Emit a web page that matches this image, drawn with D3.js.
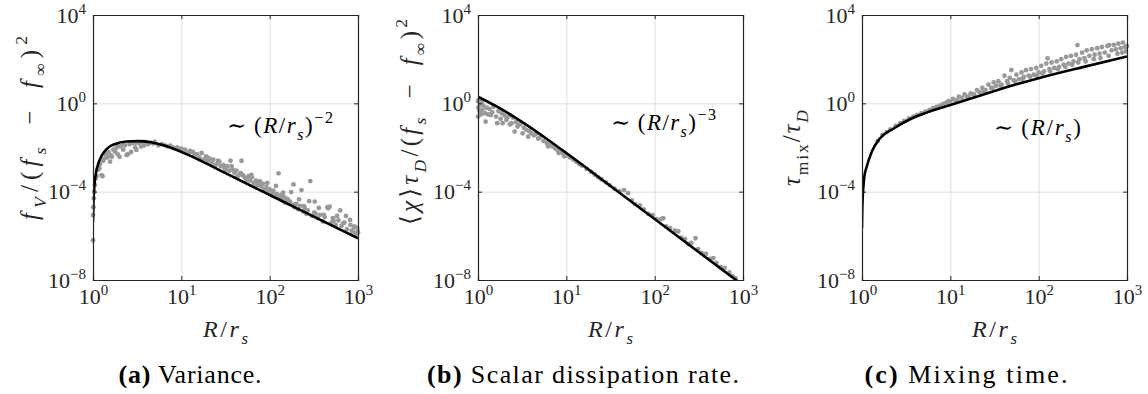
<!DOCTYPE html>
<html>
<head>
<meta charset="utf-8">
<script src="https://cdn.jsdelivr.net/npm/d3@7"></script>
<style>
  body { margin: 0; background: #fff; }
</style>
</head>
<body>
<script>
// axis ticks shared by all three panels
var xTicks = [1, 10, 100, 1000];
var yTicks = [1e-8, 1e-4, 1, 1e4];

// all series: [R/r_s, log10 of the plotted quantity]
var varianceLine = [[1, -5.36], [1.01, -4.6], [1.026, -4.0], [1.05, -3.5], [1.08, -3.15], [1.15, -2.72],
  [1.25, -2.38], [1.43, -2.06], [1.78, -1.84], [2.4, -1.73], [3.2, -1.71], [4.5, -1.76], [6.3, -1.9], [10, -2.2],
  [17.8, -2.66], [31.6, -3.16], [100, -4.15], [316, -5.13], [1000, -6.11]];

var varianceDots = [[1.0, -6.2], [1.0, -5.06], [1.01, -4.7], [1.02, -4.3], [1.03, -4.0], [1.05, -3.7], [1.07, -3.4],
  [1.1, -3.3], [1.12, -3.0], [1.15, -3.0], [1.18, -2.94], [1.2, -2.75], [1.25, -3.25], [1.28, -3.3], [1.3, -2.6],
  [1.35, -2.5], [1.4, -2.3], [1.45, -2.45], [1.5, -2.2], [1.56, -2.64], [1.6, -2.35], [1.63, -2.42], [1.7, -2.1],
  [1.78, -2.19], [1.85, -2.0], [1.9, -2.3], [1.9, -1.9], [2.0, -2.42], [2.05, -1.95], [2.2, -2.1], [2.2, -1.85],
  [2.3, -1.9], [2.4, -2.34], [2.5, -2.3], [2.6, -1.85], [2.6, -1.78], [2.7, -2.2], [2.8, -1.8], [3.0, -2.0],
  [3.0, -1.78], [3.1, -2.11], [3.3, -1.8], [3.5, -1.96], [3.6, -1.75], [3.8, -1.9], [4.0, -1.75], [4.2, -1.85],
  [4.5, -1.78], [4.8, -1.82], [5.0, -1.75], [5.5, -1.9], [6.0, -1.85], [6.5, -1.9], [7.0, -1.95], [7.5, -1.92],
  [8.0, -2.0], [8.5, -2.05], [9.0, -2.0], [9.5, -2.1], [10, -2.05], [10.5, -2.2], [11, -2.1], [12, -2.25],
  [12.5, -2.15], [13, -2.2], [14, -2.35], [15, -2.3], [16, -2.45], [17, -2.25], [18, -2.55], [19, -2.4],
  [20, -2.6], [21, -2.5], [22, -2.7], [23, -2.55], [25, -2.75], [26, -2.6], [28, -2.85], [30, -2.8],
  [31, -2.95], [33, -2.85], [35, -3.05], [36, -2.6], [38, -3.0], [40, -3.15], [42, -3.05], [45, -3.25],
  [48, -2.6], [50, -3.25], [52, -3.35], [55, -3.4], [58, -3.3], [60, -3.5], [63, -3.35], [66, -3.6],
  [70, -3.5], [73, -3.7], [76, -3.55], [80, -3.75], [84, -3.65], [88, -3.9], [92, -3.8], [96, -3.95],
  [100, -3.9], [105, -4.05], [110, -3.95], [115, -4.2], [120, -4.1], [126, -3.17], [130, -4.3], [135, -4.15],
  [140, -4.4], [145, -4.25], [150, -4.5], [160, -4.35], [165, -4.55], [170, -4.45], [186, -3.67], [185, -4.6],
  [190, -4.7], [200, -4.55], [210, -4.8], [220, -4.65], [229, -3.93], [240, -4.9], [250, -4.75], [260, -5.0],
  [270, -4.85], [288, -3.52], [300, -5.1], [324, -4.45], [330, -5.0], [350, -5.2], [370, -5.05], [400, -5.35],
  [420, -5.15], [450, -4.7], [478, -4.68], [500, -5.4], [520, -5.2], [560, -5.5], [600, -5.3], [630, -4.85],
  [650, -5.55], [700, -5.4], [750, -5.7], [813, -5.28], [820, -5.5], [870, -5.8], [900, -5.6], [950, -5.9],
  [980, -5.65], [1000, -5.85],
  [11, -2.18], [13.5, -2.2], [16.5, -2.56], [19.5, -2.44], [24, -2.85], [27, -2.64], [32, -3.03], [37, -2.85],
  [43, -3.33], [47, -3.16], [54, -3.47], [62, -3.24], [68, -3.62], [78, -3.54], [86, -3.92], [94, -3.6],
  [108, -4.01], [118, -3.74], [128, -4.27], [142, -4.05], [155, -4.32], [175, -4.02], [195, -4.57], [215, -4.35],
  [245, -4.66], [280, -4.43], [320, -4.94], [360, -4.74], [410, -5.05], [460, -4.75], [530, -5.32], [580, -5.1],
  [680, -5.44], [730, -5.1], [850, -5.77], [920, -5.58], [990, -5.8]];

var dissipationLine = [[1, 0.30], [1.585, -0.12], [2.51, -0.59], [3.98, -1.11], [6.31, -1.67], [10, -2.25],
  [31.6, -3.74], [100, -5.24], [1000, -8.24]];

var dissipationDots = [[1.0, 0.1], [1.0, -0.6], [1.01, -0.2], [1.02, 0.15], [1.04, -0.35], [1.06, -0.05],
  [1.08, -0.5], [1.1, 0.05], [1.12, -0.3], [1.15, -0.1], [1.2, -0.45], [1.22, -0.83], [1.25, -0.2], [1.3, -0.5],
  [1.35, -0.25], [1.4, -0.53], [1.45, -0.4], [1.5, -0.15], [1.6, -0.6], [1.65, -0.9], [1.7, -0.35], [1.8, -0.7],
  [1.85, -0.45], [1.9, -0.9], [2.0, -0.55], [2.1, -0.75], [2.2, -0.6], [2.3, -0.95], [2.4, -0.9], [2.5, -0.65],
  [2.6, -1.28], [2.7, -0.85], [2.8, -1.05], [3.0, -0.95], [3.2, -1.36], [3.3, -1.1], [3.5, -1.2], [3.7, -1.51],
  [3.8, -1.25], [4.0, -1.35], [4.3, -1.45], [4.5, -1.4], [4.8, -1.6], [5.0, -1.55], [5.5, -1.7], [6.0, -1.8],
  [6.2, -1.95], [6.5, -1.9], [7.0, -1.95], [7.5, -2.05], [8, -2.12], [8.2, -2.25], [8.5, -2.2], [9, -2.25],
  [9.5, -2.4], [10, -2.35], [11, -2.45], [12, -2.55], [13, -2.65], [14, -2.75], [15, -2.82], [17, -2.97],
  [19, -3.1], [21, -3.23], [23, -3.35], [25, -3.45], [28, -3.58], [31, -3.7], [35, -3.86], [40, -3.98],
  [45, -3.93], [50, -4.07], [55, -4.4], [60, -4.56], [68, -4.62], [75, -4.8], [85, -5.01], [95, -5.06],
  [105, -5.24], [118, -5.24], [125, -5.2], [135, -5.57], [150, -5.65], [170, -5.77], [185, -5.8], [200, -6.08],
  [220, -6.15], [240, -6.37], [260, -6.32], [290, -6.11], [310, -6.6], [340, -6.77], [380, -6.82], [420, -7.04],
  [460, -7.01], [500, -7.23], [560, -7.42], [620, -7.46], [700, -7.66], [760, -7.82], [820, -7.92]];

var mixingLine = [[1, -5.63], [1.005, -5.0], [1.018, -4.3], [1.04, -3.7], [1.065, -3.3], [1.13, -2.87],
  [1.29, -2.19], [1.6, -1.58], [2.26, -1.15], [3.5, -0.72], [5.4, -0.42], [10, -0.08], [17.8, 0.24], [31.6, 0.56],
  [56, 0.86], [100, 1.14], [316, 1.64], [1000, 2.12]];

var mixingDots = [[1.5, -1.71], [1.7, -1.43], [1.9, -1.3], [2.1, -1.18], [2.4, -1.02], [2.7, -0.9], [3.0, -0.8],
  [3.4, -0.68], [3.8, -0.6], [4.2, -0.52], [4.7, -0.45], [5.2, -0.38], [5.8, -0.3], [6.4, -0.22], [7.0, -0.16],
  [7.6, -0.1], [8.3, -0.03], [9.0, 0.03], [9.5, 0.1], [10, 0.08], [10.7, 0.2], [11.5, 0.12], [12.5, 0.3],
  [13.5, 0.25], [14.5, 0.4], [15.5, 0.3], [17, 0.45], [18.5, 0.4], [20, 0.6], [21.5, 0.5], [23, 0.7], [25, 0.6],
  [27, 0.85], [29, 0.7], [31, 0.95], [33, 0.8], [35, 1.0], [38, 0.85], [41, 1.25], [44, 1.0], [47, 1.15],
  [49, 1.51], [52, 1.05], [56, 1.3], [60, 1.1], [64, 1.4], [68, 1.2], [72, 1.5], [77, 1.25], [82, 1.55],
  [88, 1.3], [94, 1.6], [100, 1.4], [107, 1.7], [115, 1.45], [122, 1.8], [126, 2.04], [132, 1.55], [140, 1.85],
  [150, 1.6], [160, 1.9], [170, 1.65], [180, 2.0], [192, 1.75], [205, 2.1], [218, 1.8], [232, 2.15], [248, 1.9],
  [265, 2.2], [275, 2.64], [290, 2.0], [310, 2.3], [330, 2.05], [350, 2.4], [375, 2.15], [400, 2.45], [430, 2.2],
  [460, 2.5], [490, 2.25], [520, 2.55], [560, 2.3], [600, 2.6], [630, 2.64], [670, 2.4], [710, 2.65], [750, 2.45],
  [800, 2.7], [850, 2.5], [900, 2.75], [950, 2.55], [1000, 2.6],
  [12, 0.15], [16, 0.3], [24, 0.55], [30, 0.7], [37, 0.8], [45, 0.9], [54, 1.0], [66, 1.1], [80, 1.2], [95, 1.25],
  [110, 1.35], [135, 1.45], [165, 1.55], [200, 1.65], [240, 1.75], [280, 1.85], [340, 1.9], [420, 2.0], [500, 2.05],
  [620, 2.15], [780, 2.25], [880, 2.3], [970, 2.35]];

var serif = "'Liberation Serif', Tinos, 'Times New Roman', 'DejaVu Serif', 'Noto Serif', serif";
var fs = 22;

var svg = d3.select('body').append('svg')
    .attr('width', 1148)
    .attr('height', 394)
    .attr('font-family', serif);

// small helper for math-ish labels built from tspans
function addMath(text, parts, size) {
  var cur = 0;
  parts.forEach(function(p) {
    var target = p.s === 'sub' ? size * 0.3 : (p.s === 'sup' ? -size * 0.45 : 0);
    text.append('tspan')
        .attr('dy', target - cur)
        .attr('font-style', p.i ? 'italic' : 'normal')
        .attr('font-size', p.s ? size * 0.7 : size)
        .text(p.t);
    cur = target;
  });
}

function expLabel(t) {
  var e = Math.round(Math.log10(t));
  return (e < 0 ? '\u2212' : '') + Math.abs(e);
}

var tail = [{t: '/('}, {t: 'f', i: 1}, {t: 's', i: 1, s: 'sub'}, {t: '\u2002\u2212\u2002'}, {t: 'f', i: 1},
  {t: '\u221E', s: 'sub'}, {t: ')'}, {t: '2', s: 'sup'}];
var rOverRs = [{t: 'R', i: 1}, {t: '/'}, {t: 'r', i: 1}, {t: 's', i: 1, s: 'sub'}];

var panels = [
  {left: 93, line: varianceLine, dots: varianceDots,
   ylabel: [{t: 'f', i: 1}, {t: 'V', i: 1, s: 'sub'}].concat(tail), ylx: 38, yly: 128, ylen: 184,
   note: [{t: '\u223C\u2009('}].concat(rOverRs, [{t: ')'}, {t: '\u22122', s: 'sup'}]), nx: 227, ny: 133, nlen: 106,
   cap: '(a)', capText: ' Variance.', capX: 190, capLen: 143},
  {left: 478, line: dissipationLine, dots: dissipationDots,
   ylabel: [{t: '\u27E8'}, {t: '\u03C7', i: 1}, {t: '\u27E9'}, {t: '\u03C4', i: 1}, {t: 'D', i: 1, s: 'sub'}].concat(tail),
   ylx: 418, yly: 122, ylen: 206,
   note: [{t: '\u223C\u2009('}].concat(rOverRs, [{t: ')'}, {t: '\u22123', s: 'sup'}]), nx: 611, ny: 130, nlen: 105,
   cap: '(b)', capText: ' Scalar dissipation rate.', capX: 583, capLen: 312},
  {left: 862, line: mixingLine, dots: mixingDots,
   ylabel: [{t: '\u03C4', i: 1}, {t: 'mix', s: 'sub'}, {t: '/'}, {t: '\u03C4', i: 1}, {t: 'D', i: 1, s: 'sub'}],
   ylx: 800, yly: 148, ylen: 76,
   note: [{t: '\u223C\u2009('}].concat(rOverRs, [{t: ')'}]), nx: 994, ny: 135, nlen: 87,
   cap: '(c)', capText: ' Mixing time.', capX: 966, capLen: 203}
];

var plotTop = 15, plotSize = 265;

panels.forEach(function(p, k) {
  var size = plotSize;
  var x = d3.scaleLog().domain([1, 1000]).range([0, size]);
  var y = d3.scaleLog().domain([1e-8, 1e4]).range([size, 0]);
  var g = svg.append('g').attr('transform', 'translate(' + p.left + ',' + plotTop + ')');

  // grid
  g.append('g').attr('class', 'grid')
      .call(d3.axisBottom(x).tickValues(xTicks.slice(1, 3)).tickSize(size).tickFormat(''))
      .call(function(s) { s.select('.domain').remove(); });
  g.append('g').attr('class', 'grid')
      .call(d3.axisLeft(y).tickValues(yTicks.slice(1, 3)).tickSize(-size).tickFormat(''))
      .call(function(s) { s.select('.domain').remove(); });
  g.selectAll('.grid line').attr('stroke', '#dedede').attr('stroke-width', 1);

  // clip for the curve
  var clipId = 'clip' + k;
  g.append('clipPath').attr('id', clipId)
    .append('rect').attr('width', size).attr('height', size);

  g.append('g').selectAll('circle')
      .data(p.dots)
      .enter().append('circle')
      .attr('cx', function(d) { return x(d[0]); })
      .attr('cy', function(d) { return y(Math.pow(10, d[1])); })
      .attr('r', 2.4)
      .attr('fill', '#999999');

  var line = d3.line()
      .x(function(d) { return x(d[0]); })
      .y(function(d) { return y(Math.pow(10, d[1])); })
      .curve(d3.curveMonotoneX);
  g.append('path')
      .datum(p.line)
      .attr('clip-path', 'url(#' + clipId + ')')
      .attr('d', line)
      .attr('fill', 'none')
      .attr('stroke', '#000')
      .attr('stroke-width', 2.6);

  // axes, ticks pointing inward on all four sides
  var ax = [
    g.append('g').attr('transform', 'translate(0,' + size + ')')
      .call(d3.axisBottom(x).tickValues(xTicks).tickSize(-4).tickPadding(9)),
    g.append('g')
      .call(d3.axisLeft(y).tickValues(yTicks).tickSize(-4).tickPadding(7)),
    g.append('g')
      .call(d3.axisTop(x).tickValues(xTicks).tickSize(-4).tickFormat('')),
    g.append('g').attr('transform', 'translate(' + size + ',0)')
      .call(d3.axisRight(y).tickValues(yTicks).tickSize(-4).tickFormat(''))
  ];
  ax.forEach(function(a) {
    a.attr('font-family', serif).attr('font-size', null);
    a.select('.domain').attr('stroke', '#262626').attr('stroke-width', 1.2);
    a.selectAll('.tick line').attr('stroke', '#262626').attr('stroke-width', 1);
    a.selectAll('.tick text').each(function(t) {
      var txt = d3.select(this);
      if (!txt.text()) return;
      txt.text(null)
        .attr('font-size', fs)
        .attr('fill', '#262626');
      txt.append('tspan').text('10');
      txt.append('tspan').attr('dy', -9).attr('font-size', 15).text(expLabel(t));
    });
  });
  ax[0].selectAll('.tick text').attr('dy', null).attr('y', 24);

  // labels
  var yl = svg.append('text')
      .attr('transform', 'translate(' + p.ylx + ',' + p.yly + ') rotate(-90)')
      .attr('text-anchor', 'middle')
      .attr('textLength', p.ylen)
      .attr('lengthAdjust', 'spacing')
      .attr('fill', '#262626');
  addMath(yl, p.ylabel, 25);

  var xl = svg.append('text')
      .attr('x', p.left + size / 2)
      .attr('y', 337)
      .attr('text-anchor', 'middle')
      .attr('textLength', 45)
      .attr('lengthAdjust', 'spacing')
      .attr('fill', '#262626');
  addMath(xl, rOverRs, 24);

  var nt = svg.append('text')
      .attr('x', p.nx)
      .attr('y', p.ny)
      .attr('textLength', p.nlen)
      .attr('lengthAdjust', 'spacing')
      .attr('fill', '#000');
  addMath(nt, p.note, 23);

  var cap = svg.append('text')
      .attr('x', p.capX)
      .attr('y', 383)
      .attr('text-anchor', 'middle')
      .attr('font-size', 26)
      .attr('textLength', p.capLen)
      .attr('lengthAdjust', 'spacing')
      .attr('fill', '#000');
  cap.append('tspan').attr('font-weight', 'bold').text(p.cap);
  cap.append('tspan').text(p.capText);
});
</script>
</body>
</html>
